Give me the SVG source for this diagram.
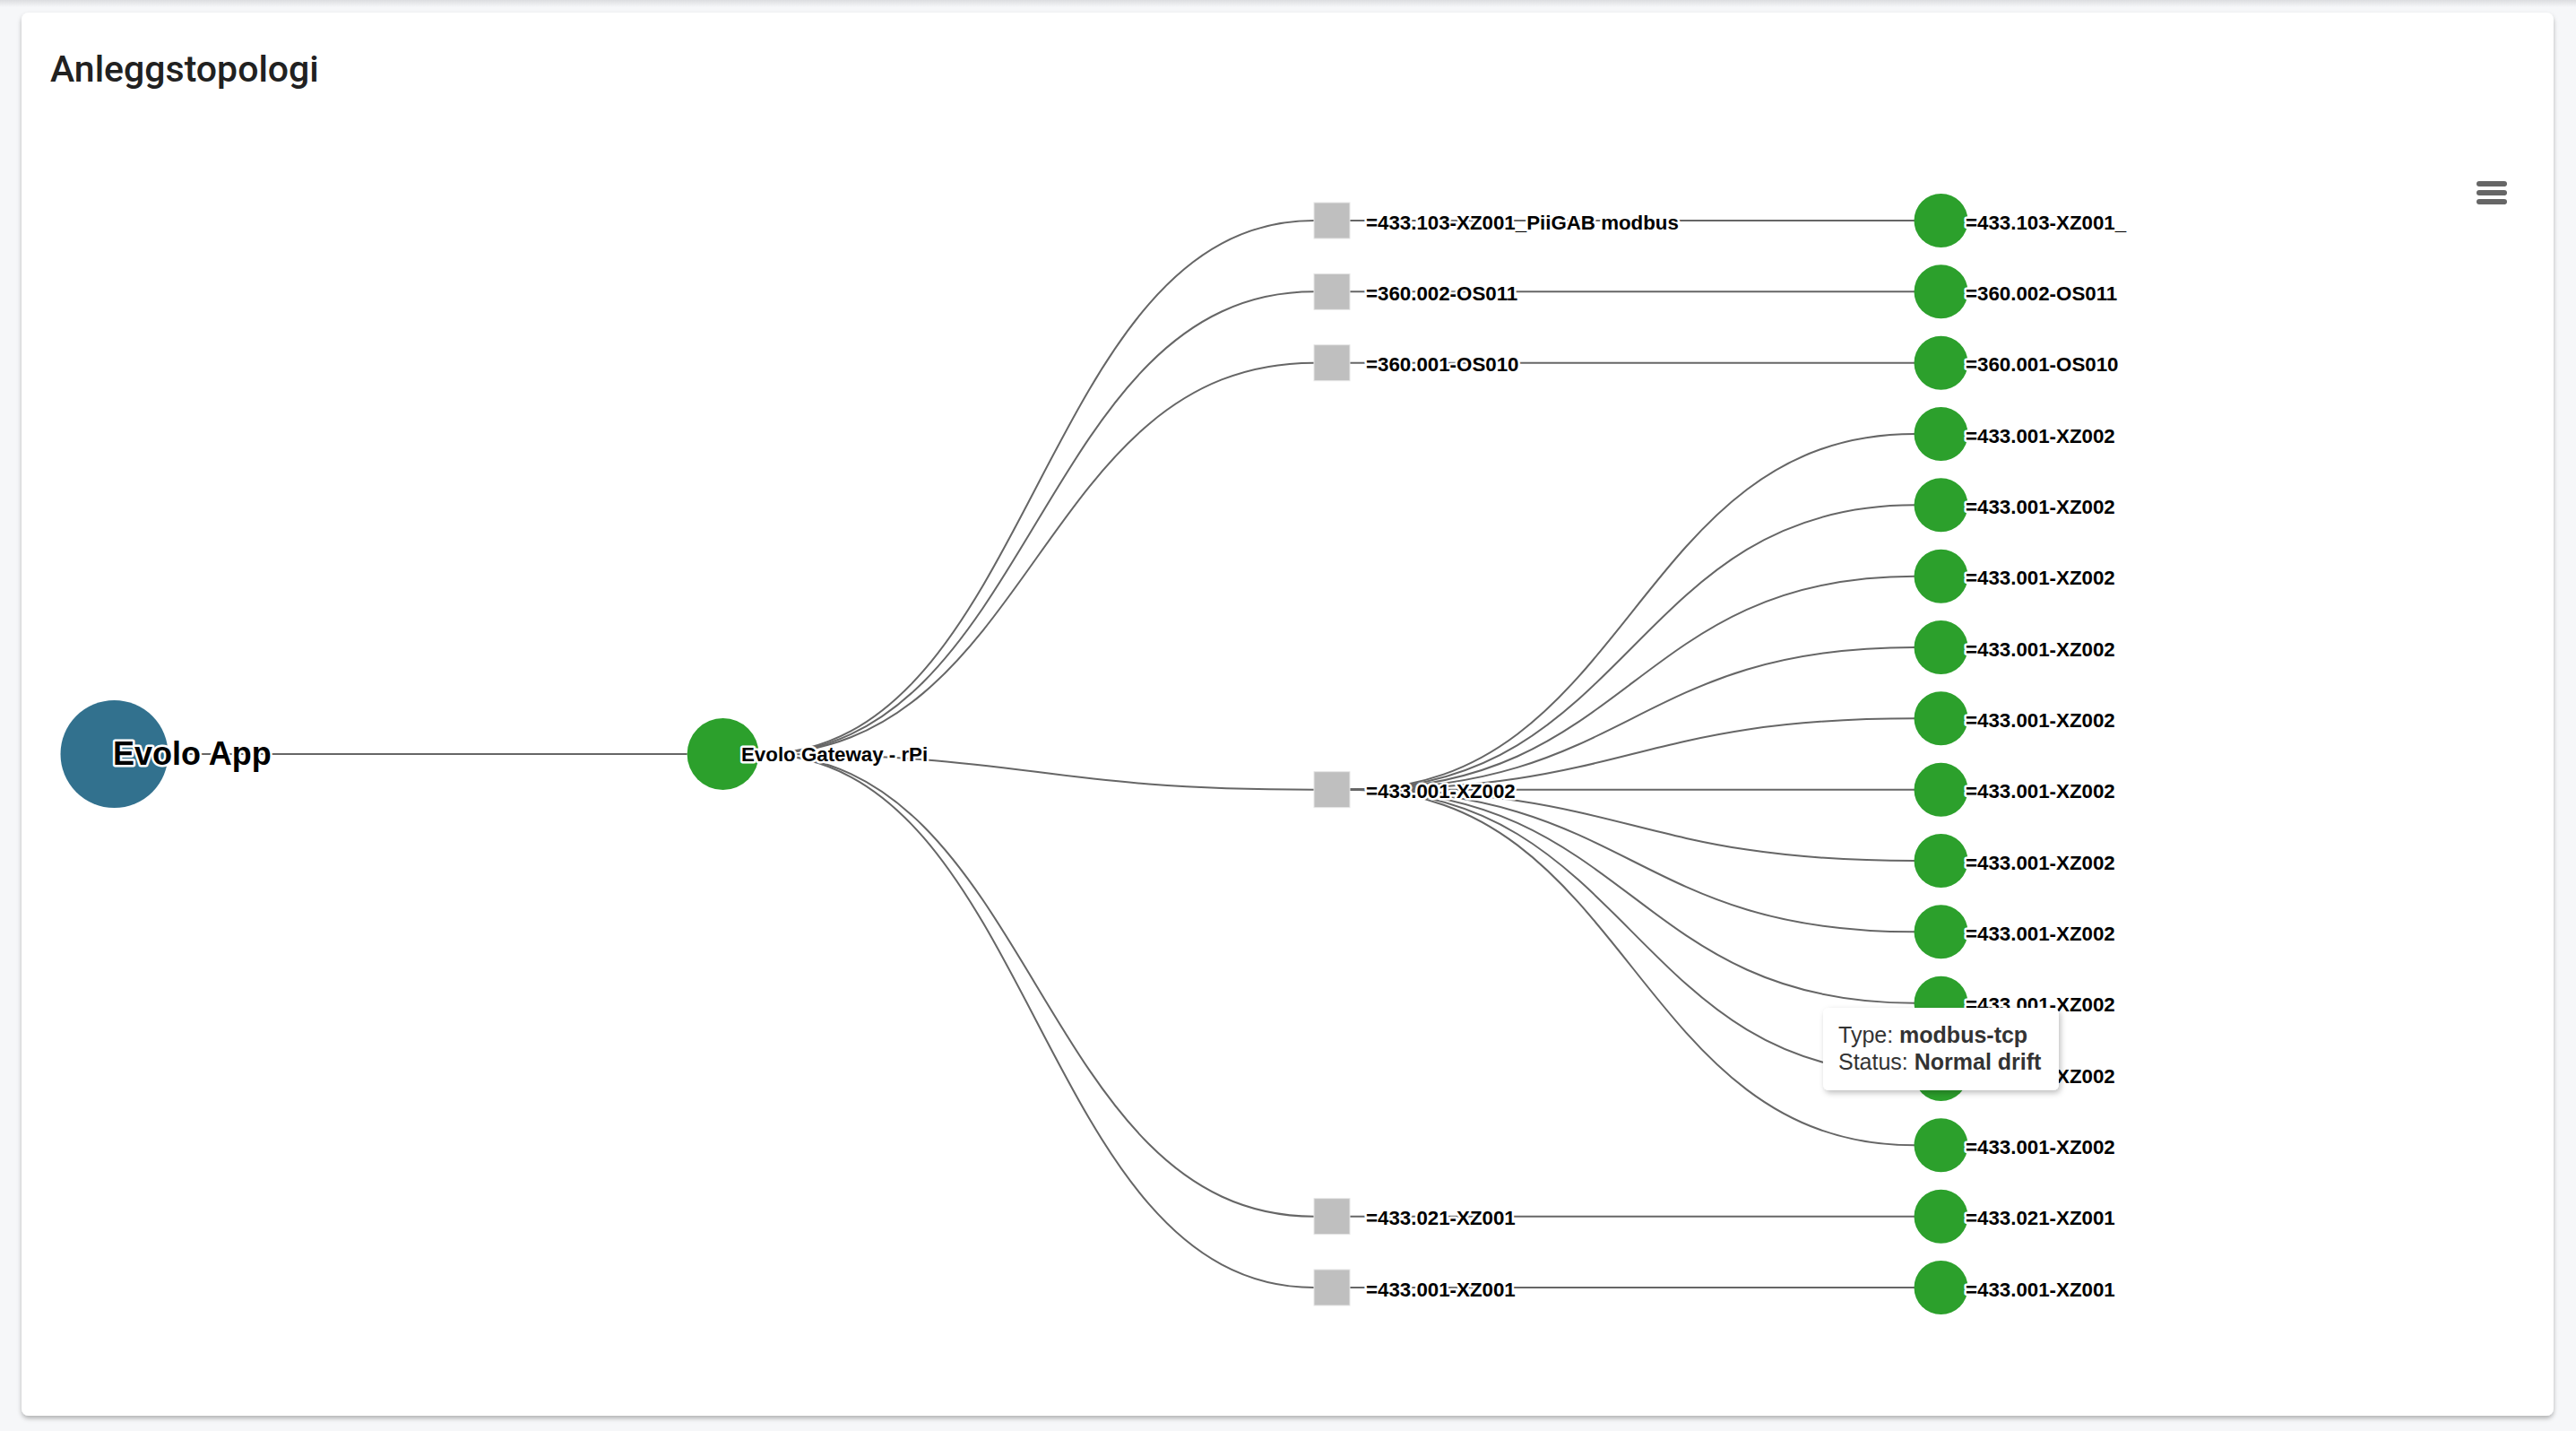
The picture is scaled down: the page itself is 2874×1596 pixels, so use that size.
<svg xmlns="http://www.w3.org/2000/svg" width="2874" height="1596" viewBox="0 0 2874 1596">
  <defs>
    <filter id="cardShadow" x="-2%" y="-2%" width="104%" height="105%">
      <feDropShadow dx="0" dy="3" stdDeviation="2.5" flood-color="#000" flood-opacity="0.28"/>
    </filter>
    <filter id="tipShadow" x="-10%" y="-20%" width="125%" height="150%">
      <feDropShadow dx="2" dy="3" stdDeviation="3" flood-color="#000" flood-opacity="0.25"/>
    </filter>
    <linearGradient id="topShade" x1="0" y1="0" x2="0" y2="1">
      <stop offset="0" stop-color="#dcdde0"/>
      <stop offset="1" stop-color="#f6f7f9"/>
    </linearGradient>
    <style>
      .link { fill: none; stroke: #666666; stroke-width: 2; }
      .leaf { fill: #2ca02c; }
      .hub { fill: #bfbfbf; stroke: #e6e6e6; stroke-width: 1; }
      .lbl { font-family: "Liberation Sans", Arial, Helvetica, sans-serif; font-weight: bold; font-size: 22.3px; fill: #000000; stroke: #ffffff; stroke-width: 5; stroke-linejoin: round; paint-order: stroke fill; }
      .big { font-size: 36px; }
      .title { font-family: Roboto, "Liberation Sans", sans-serif; font-size: 41px; font-weight: 500; fill: #212121; }
      .tip { font-family: "Liberation Sans", Arial, Helvetica, sans-serif; font-size: 25px; fill: #333333; }
      .tip tspan.b { font-weight: bold; }
    </style>
  </defs>

  <rect x="0" y="0" width="2874" height="1596" fill="#f6f7f9"/>
  <rect x="0" y="0" width="2874" height="8" fill="url(#topShade)"/>

  <g id="card">
    <rect x="24" y="14" width="2825" height="1565" rx="8" ry="8" fill="#ffffff" filter="url(#cardShadow)"/>
    <text class="title" x="56" y="91">Anleggstopologi</text>
    <g id="menu" stroke="#666666" stroke-width="6" stroke-linecap="round">
      <line x1="2766" y1="205" x2="2794" y2="205"/>
      <line x1="2766" y1="215" x2="2794" y2="215"/>
      <line x1="2766" y1="225" x2="2794" y2="225"/>
    </g>
  </g>

  <g id="connectors">
    <path class="link" d="M187.5 841 L766.6 841"/>
    <path class="link" d="M846.6 841 C1156 841 1156 246 1466 246"/>
    <path class="link" d="M846.6 841 C1156 841 1156 325.33 1466 325.33"/>
    <path class="link" d="M846.6 841 C1156 841 1156 404.67 1466 404.67"/>
    <path class="link" d="M846.6 841 C1156 841 1156 880.67 1466 880.67"/>
    <path class="link" d="M846.6 841 C1156 841 1156 1356.67 1466 1356.67"/>
    <path class="link" d="M846.6 841 C1156 841 1156 1436 1466 1436"/>
    <path class="link" d="M1506 246 L2136 246"/>
    <path class="link" d="M1506 325.33 L2136 325.33"/>
    <path class="link" d="M1506 404.67 L2136 404.67"/>
    <path class="link" d="M1506 880.67 C1821 880.67 1821 484 2136 484"/>
    <path class="link" d="M1506 880.67 C1821 880.67 1821 563.33 2136 563.33"/>
    <path class="link" d="M1506 880.67 C1821 880.67 1821 642.67 2136 642.67"/>
    <path class="link" d="M1506 880.67 C1821 880.67 1821 722 2136 722"/>
    <path class="link" d="M1506 880.67 C1821 880.67 1821 801.33 2136 801.33"/>
    <path class="link" d="M1506 880.67 L2136 880.67"/>
    <path class="link" d="M1506 880.67 C1821 880.67 1821 960 2136 960"/>
    <path class="link" d="M1506 880.67 C1821 880.67 1821 1039.33 2136 1039.33"/>
    <path class="link" d="M1506 880.67 C1821 880.67 1821 1118.67 2136 1118.67"/>
    <path class="link" d="M1506 880.67 C1821 880.67 1821 1198 2136 1198"/>
    <path class="link" d="M1506 880.67 C1821 880.67 1821 1277.33 2136 1277.33"/>
    <path class="link" d="M1506 1356.67 L2136 1356.67"/>
    <path class="link" d="M1506 1436 L2136 1436"/>
  </g>

  <g id="node-evolo-app">
    <circle cx="127.5" cy="841" r="60" fill="#32718e"/>
    <text class="lbl big" x="126" y="853">Evolo App</text>
  </g>
  <g id="node-gateway">
    <circle cx="806.6" cy="841" r="40" class="leaf"/>
    <text class="lbl" x="827" y="849.3">Evolo Gateway - rPi</text>
  </g>

  <g id="node-s-433-103">
    <rect class="hub" x="1466" y="226" width="40" height="40"/>
    <text class="lbl" x="1524" y="255.5">=433.103-XZ001_PiiGAB modbus</text>
  </g>
  <g id="node-s-360-002">
    <rect class="hub" x="1466" y="305.33" width="40" height="40"/>
    <text class="lbl" x="1524" y="334.8">=360.002-OS011</text>
  </g>
  <g id="node-s-360-001">
    <rect class="hub" x="1466" y="384.67" width="40" height="40"/>
    <text class="lbl" x="1524" y="414.2">=360.001-OS010</text>
  </g>
  <g id="node-s-433-001-xz002">
    <rect class="hub" x="1466" y="860.67" width="40" height="40"/>
    <text class="lbl" x="1524" y="890.2">=433.001-XZ002</text>
  </g>
  <g id="node-s-433-021">
    <rect class="hub" x="1466" y="1336.67" width="40" height="40"/>
    <text class="lbl" x="1524" y="1366.2">=433.021-XZ001</text>
  </g>
  <g id="node-s-433-001-xz001">
    <rect class="hub" x="1466" y="1416" width="40" height="40"/>
    <text class="lbl" x="1524" y="1445.5">=433.001-XZ001</text>
  </g>

  <g id="node-c0"><circle class="leaf" cx="2165.5" cy="246" r="30"/><text class="lbl" x="2193" y="255.5">=433.103-XZ001_</text></g>
  <g id="node-c1"><circle class="leaf" cx="2165.5" cy="325.33" r="30"/><text class="lbl" x="2193" y="334.8">=360.002-OS011</text></g>
  <g id="node-c2"><circle class="leaf" cx="2165.5" cy="404.67" r="30"/><text class="lbl" x="2193" y="414.2">=360.001-OS010</text></g>
  <g id="node-c3"><circle class="leaf" cx="2165.5" cy="484" r="30"/><text class="lbl" x="2193" y="493.5">=433.001-XZ002</text></g>
  <g id="node-c4"><circle class="leaf" cx="2165.5" cy="563.33" r="30"/><text class="lbl" x="2193" y="572.8">=433.001-XZ002</text></g>
  <g id="node-c5"><circle class="leaf" cx="2165.5" cy="642.67" r="30"/><text class="lbl" x="2193" y="652.2">=433.001-XZ002</text></g>
  <g id="node-c6"><circle class="leaf" cx="2165.5" cy="722" r="30"/><text class="lbl" x="2193" y="731.5">=433.001-XZ002</text></g>
  <g id="node-c7"><circle class="leaf" cx="2165.5" cy="801.33" r="30"/><text class="lbl" x="2193" y="810.8">=433.001-XZ002</text></g>
  <g id="node-c8"><circle class="leaf" cx="2165.5" cy="880.67" r="30"/><text class="lbl" x="2193" y="890.2">=433.001-XZ002</text></g>
  <g id="node-c9"><circle class="leaf" cx="2165.5" cy="960" r="30"/><text class="lbl" x="2193" y="969.5">=433.001-XZ002</text></g>
  <g id="node-c10"><circle class="leaf" cx="2165.5" cy="1039.33" r="30"/><text class="lbl" x="2193" y="1048.8">=433.001-XZ002</text></g>
  <g id="node-c11"><circle class="leaf" cx="2165.5" cy="1118.67" r="30"/><text class="lbl" x="2193" y="1128.2">=433.001-XZ002</text></g>
  <g id="node-c12"><circle class="leaf" cx="2165.5" cy="1198" r="30"/><text class="lbl" x="2193" y="1207.5">=433.001-XZ002</text></g>
  <g id="node-c13"><circle class="leaf" cx="2165.5" cy="1277.33" r="30"/><text class="lbl" x="2193" y="1286.8">=433.001-XZ002</text></g>
  <g id="node-c14"><circle class="leaf" cx="2165.5" cy="1356.67" r="30"/><text class="lbl" x="2193" y="1366.2">=433.021-XZ001</text></g>
  <g id="node-c15"><circle class="leaf" cx="2165.5" cy="1436" r="30"/><text class="lbl" x="2193" y="1445.5">=433.001-XZ001</text></g>

  <g id="tooltip">
    <rect x="2034" y="1124" width="263" height="92" rx="6" ry="6" fill="#ffffff" filter="url(#tipShadow)"/>
    <text class="tip" x="2051" y="1163">Type: <tspan class="b">modbus-tcp</tspan></text>
    <text class="tip" x="2051" y="1193">Status: <tspan class="b">Normal drift</tspan></text>
  </g>
</svg>
